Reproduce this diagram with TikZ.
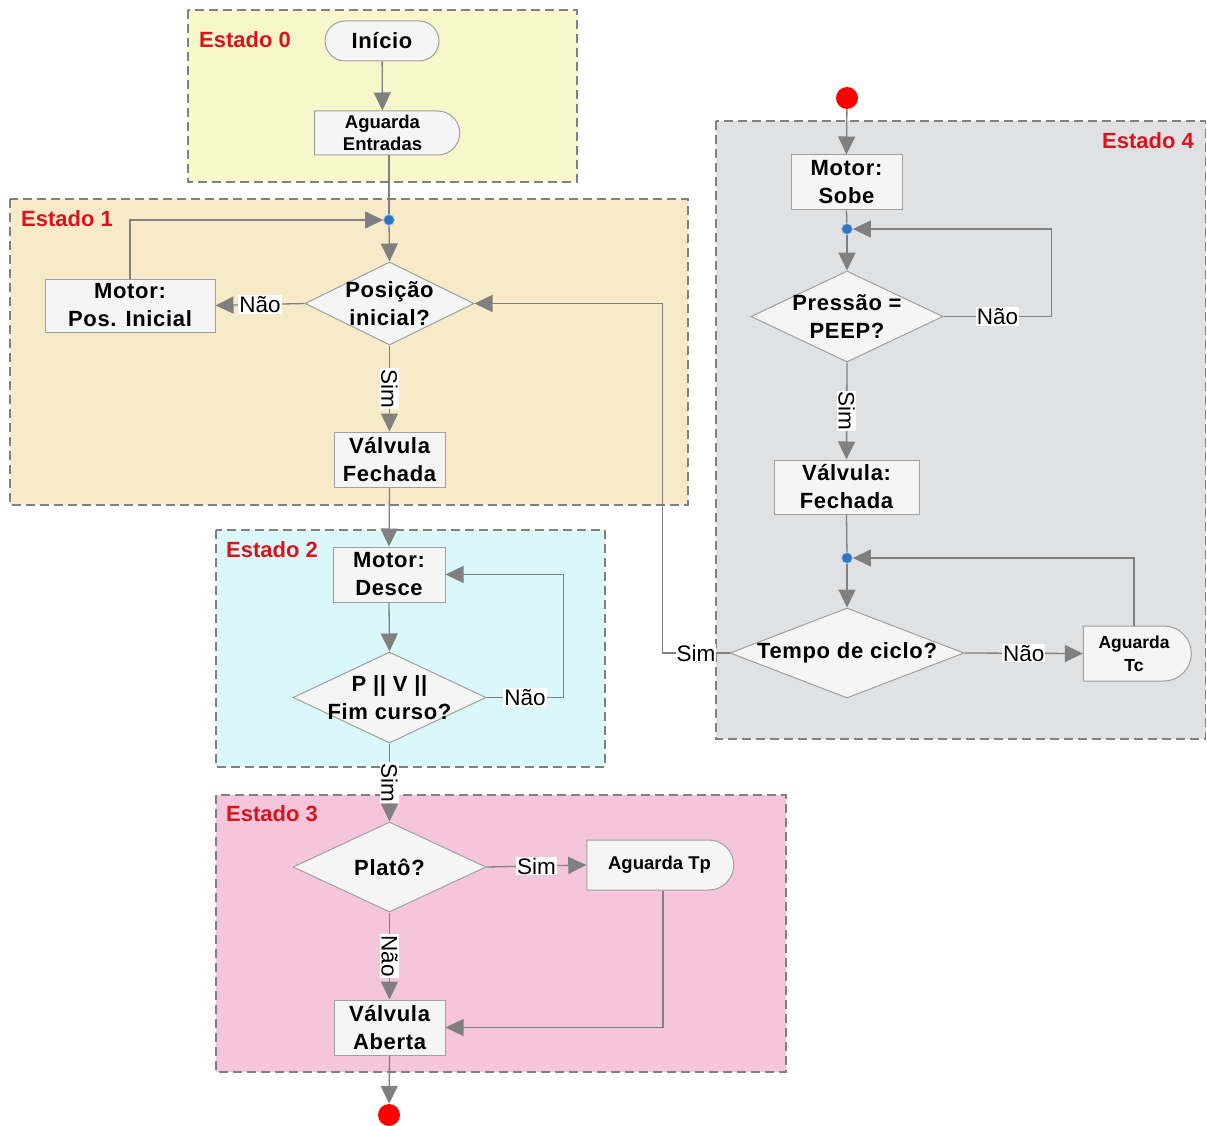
\documentclass[tikz,border=0pt]{standalone}
\usepackage{fontspec}
\setmainfont{Liberation Sans}
\usetikzlibrary{shapes.geometric,shapes.misc,arrows.meta,backgrounds}

\definecolor{zoneA}{HTML}{F7F7CB}
\definecolor{zoneB}{HTML}{F7EAC8}
\definecolor{zoneC}{HTML}{DAF7FA}
\definecolor{zoneD}{HTML}{F5C5DC}
\definecolor{zoneE}{HTML}{DFE1E3}
\definecolor{edge}{HTML}{808080}
\definecolor{boxline}{HTML}{A0A0A0}
\definecolor{boxfill}{HTML}{F5F5F5}
\definecolor{statered}{HTML}{D9141C}
\definecolor{dotblue}{HTML}{2E75C0}
\definecolor{endred}{HTML}{FF0000}

\begin{document}
\begin{tikzpicture}[x=1pt,y=-1pt,
  zone/.style={draw=edge, dash pattern=on 9pt off 5pt, line width=1.3pt},
  zonetitle/.style={font=\bfseries\fontsize{22}{26}\selectfont, text=statered, inner sep=0pt},
  boxtext/.style={font=\bfseries\fontsize{22}{28}\selectfont\addfontfeatures{LetterSpace=3}, align=center},
  proc/.style={rectangle, draw=boxline, fill=boxfill, line width=1pt, inner sep=0pt, boxtext},
  term/.style={rounded rectangle, draw=boxline, fill=boxfill, line width=1pt, inner sep=0pt, boxtext},
  waitbox/.style={rounded rectangle, rounded rectangle left arc=none, draw=boxline, fill=boxfill,
    line width=1pt, inner sep=0pt, align=center, font=\bfseries\fontsize{18.5}{22.5}\selectfont},
  decision/.style={diamond, draw=boxline, fill=boxfill, line width=1pt, inner sep=0pt},
  junction/.style={circle, fill=dotblue, draw=dotblue!40, line width=0.8pt, inner sep=0pt, minimum size=11pt},
  terminal/.style={circle, fill=endred, inner sep=0pt, minimum size=22pt},
  link/.style={draw=edge, line width=1.3pt},
  arr/.style={link, -{Triangle[length=18pt,width=17pt]}},
  lbl/.style={fill=white, inner sep=1pt, font=\fontsize{22.5}{26}\selectfont},
  vlbl/.style={lbl, rotate=-90}
]
\useasboundingbox (0,0) rectangle (1207,1126);

% ---------- nodes ----------
\node[term, minimum width=114pt, minimum height=40pt] (ini) at (382,41) {Início};
\node[waitbox, minimum width=145pt, minimum height=44pt] (ae) at (382.5,133) {Aguarda\\Entradas};

\node[junction] (j1) at (389,220) {};
\node[decision, minimum width=169pt, minimum height=83pt] (d1) at (389.5,303.5) {};
\node[boxtext] (d1t) at (d1) {Posição\\inicial?};
\node[proc, minimum width=170pt, minimum height=53pt] (m1) at (130,305.5) {Motor:\\Pos. Inicial};
\node[proc, minimum width=111pt, minimum height=55pt] (v1) at (389.5,459.5) {Válvula\\Fechada};

\node[proc, minimum width=112pt, minimum height=55pt] (m2) at (389,574.5) {Motor:\\Desce};
\node[decision, minimum width=193pt, minimum height=91pt] (d2) at (389.5,697.5) {};
\node[boxtext] (d2t) at (d2) {P || V ||\\Fim curso?};

\node[decision, minimum width=193pt, minimum height=90pt] (p3) at (389.5,867) {};
\node[boxtext] (p3t) at (p3) {Platô?};
\node[waitbox, minimum width=147pt, minimum height=50pt] (tp) at (659.5,865) {Aguarda Tp};
\node[proc, minimum width=111pt, minimum height=55pt] (va) at (389.5,1027.5) {Válvula\\Aberta};
\node[terminal] (fim) at (389,1115) {};

\node[terminal] (st4) at (847,98) {};
\node[proc, minimum width=111pt, minimum height=55pt] (ms) at (846.5,182.5) {Motor:\\Sobe};
\node[junction] (j2) at (847,229) {};
\node[decision, minimum width=192pt, minimum height=91pt] (d3) at (847,316.5) {};
\node[boxtext] (d3t) at (d3) {Pressão =\\PEEP?};
\node[proc, minimum width=145pt, minimum height=54pt] (vf) at (846.5,487) {Válvula:\\Fechada};
\node[junction] (j3) at (847,558) {};
\node[decision, minimum width=234pt, minimum height=90pt] (d4) at (847,653) {};
\node[boxtext] (d4t) at (d4) {Tempo de ciclo?};
\node[waitbox, minimum width=108pt, minimum height=55pt, font=\bfseries\fontsize{17.5}{23}\selectfont] (tc) at (1134,653.5) {Aguarda\\Tc};

% ---------- state regions ----------
\begin{scope}[on background layer]
  \filldraw[zone, fill=zoneA] (188,10) rectangle (577,182);
  \filldraw[zone, fill=zoneB] (10,199) rectangle (688,505);
  \filldraw[zone, fill=zoneC] (216,530) rectangle (605,767);
  \filldraw[zone, fill=zoneD] (216,795) rectangle (786,1072);
  \filldraw[zone, fill=zoneE] (716,121) rectangle (1205.5,739);
\end{scope}
\node[zonetitle] (s0) at (245,40) {Estado 0};
\node[zonetitle] (s1) at (67,219) {Estado 1};
\node[zonetitle] (s2) at (272,550) {Estado 2};
\node[zonetitle] (s3) at (272,814) {Estado 3};
\node[zonetitle] (s4) at (1148,141) {Estado 4};

% ---------- connectors ----------
% Estado 0
\draw[arr] (ini) -- (ae);
\draw[link] (ae.south -| j1) -- (j1);

% Estado 1
\draw[arr] (m1.north) |- (j1);
\draw[arr] (j1) -- (d1.north);
\draw[arr] (d1.west) -- node[lbl] {Não} (m1.east);
\draw[arr] (d1.south) -- node[vlbl] {Sim} (v1.north);
\draw[arr] (v1.south) -- (m2.north);

% Estado 2
\draw[arr] (m2.south) -- (d2.north);
\draw[arr] (d2.east) -- node[lbl] {Não} ++(77,0) |- (m2.east);
\draw[arr] (d2.south) -- node[vlbl] {Sim} (p3.north);

% Estado 3
\draw[arr] (p3.east) -- node[lbl] {Sim} (tp.west);
\draw[arr] ([xshift=3.5pt]tp.south) |- (va.east);
\draw[arr] (p3.south) -- node[vlbl] {Não} (va.north);
\draw[arr] (va.south) -- (fim);

% Estado 4
\draw[arr] (st4) -- (ms.north);
\draw[link] (ms.south) -- (j2);
\draw[arr] (j2) -- (d3.north);
\draw[arr] (d3.east) -- node[lbl] {Não} ++(108,0) |- (j2);
\draw[arr] (d3.south) -- node[vlbl] {Sim} (vf.north);
\draw[link] (vf.south) -- (j3);
\draw[arr] (j3) -- (d4.north);
\draw[arr] (d4.east) -- node[lbl] {Não} (tc.west);
\draw[arr] (tc.north) |- (j3);
\draw[arr] (d4.west) -- node[lbl] {Sim} ++(-67,0) |- (d1.east);
\end{tikzpicture}
\end{document}
